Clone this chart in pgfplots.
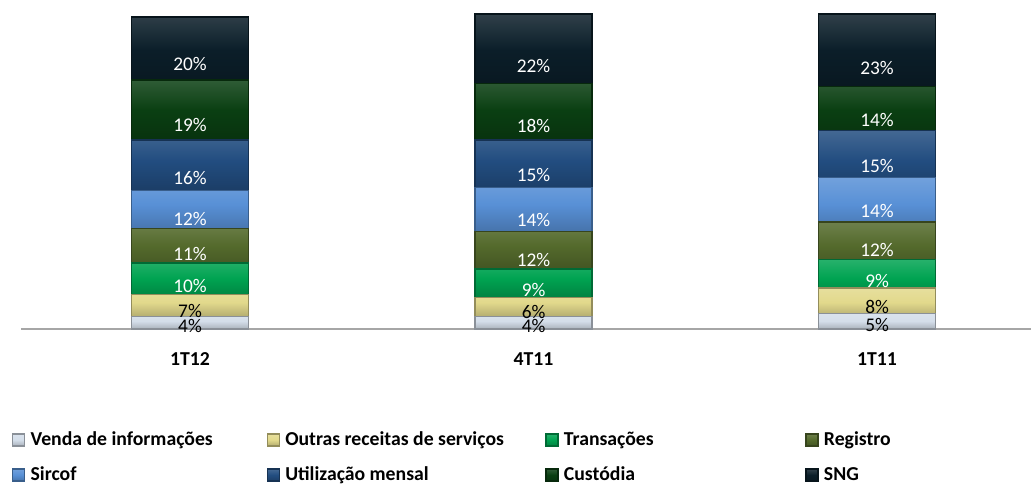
\documentclass[border=0pt]{standalone}
\usepackage{fontspec}
\setmainfont{Carlito}
\usepackage{pgfplots}
\pgfplotsset{compat=1.18}

\definecolor{cVenda}{HTML}{D4DEEA}
\definecolor{cOutras}{HTML}{E2D98C}
\definecolor{cTrans}{HTML}{00A351}
\definecolor{cReg}{HTML}{546A2C}
\definecolor{cSircof}{HTML}{5890D6}
\definecolor{cUtil}{HTML}{224D80}
\definecolor{cCust}{HTML}{0A3F12}
\definecolor{cSNG}{HTML}{0B1E29}
\definecolor{axgray}{HTML}{A6A6A6}

\pgfplotsset{
  seg/.style={fill=#1, draw=#1!65!black, line width=1pt,
    top color=#1!85!white, bottom color=#1!80!black, middle color=#1},
  lblk/.style={every node near coord/.append style={text=black}},
  lwht/.style={every node near coord/.append style={text=white}},
}

\newcommand{\lbox}[2]{\makebox[#1][l]{#2}}

\begin{document}
\begin{tikzpicture}
\useasboundingbox (-15.75pt,-117.75pt) rectangle (757.5pt,246.75pt);
\begin{axis}[
  scale only axis, width=757.5pt, height=236.25pt,
  ybar stacked, bar width=87.75pt,
  xmin=-0.492, xmax=2.448, ymin=0, ymax=100,
  xtick=data, xticklabels={1T12,4T11,1T11},
  major tick length=0pt,
  axis y line=none, axis x line*=bottom,
  x axis line style={-, draw=axgray, line width=1.5pt},
  xticklabel style={font=\fontsize{14.8}{17}\selectfont\bfseries, anchor=base, yshift=-27.3pt},
  point meta=explicit symbolic,
  nodes near coords={\pgfplotspointmeta\%},
  every node near coord/.append style={font=\fontsize{14.5}{16}\selectfont,
    anchor=center, yshift=-\pgfplotspointmeta*0.590625pt},
  legend columns=4,
  legend style={draw=none, fill=none, at={(axis description cs:0,0)}, anchor=north west,
    xshift=-10pt, yshift=-73pt,
    font=\fontsize{14.8}{17}\selectfont\bfseries,
    /tikz/every odd column/.style={column sep=2pt},
    row sep=10.5pt},
  legend cell align=left,
  legend image code/.code={\fill[#1] (0pt,-4.5pt) rectangle (9pt,4.5pt);},
  clip=false,
]
\addplot[seg=cVenda, lblk] coordinates {(0,4) [4] (1,4) [4] (2,5) [5]};
\addplot[seg=cOutras, lblk] coordinates {(0,7) [7] (1,6) [6] (2,8) [8]};
\addplot[seg=cTrans, lwht] coordinates {(0,10) [10] (1,9) [9] (2,9) [9]};
\addplot[seg=cReg, lwht] coordinates {(0,11) [11] (1,12) [12] (2,12) [12]};
\addplot[seg=cSircof, lwht] coordinates {(0,12) [12] (1,14) [14] (2,14) [14]};
\addplot[seg=cUtil, lwht] coordinates {(0,16) [16] (1,15) [15] (2,15) [15]};
\addplot[seg=cCust, lwht] coordinates {(0,19) [19] (1,18) [18] (2,14) [14]};
\addplot[seg=cSNG, lwht] coordinates {(0,20) [20] (1,22) [22] (2,23) [23]};
\legend{\lbox{175pt}{Venda de informações},\lbox{193pt}{Outras receitas de serviços},\lbox{179pt}{Transações},Registro,
  Sircof,Utilização mensal,Custódia,SNG}
\end{axis}
\end{tikzpicture}
\end{document}
